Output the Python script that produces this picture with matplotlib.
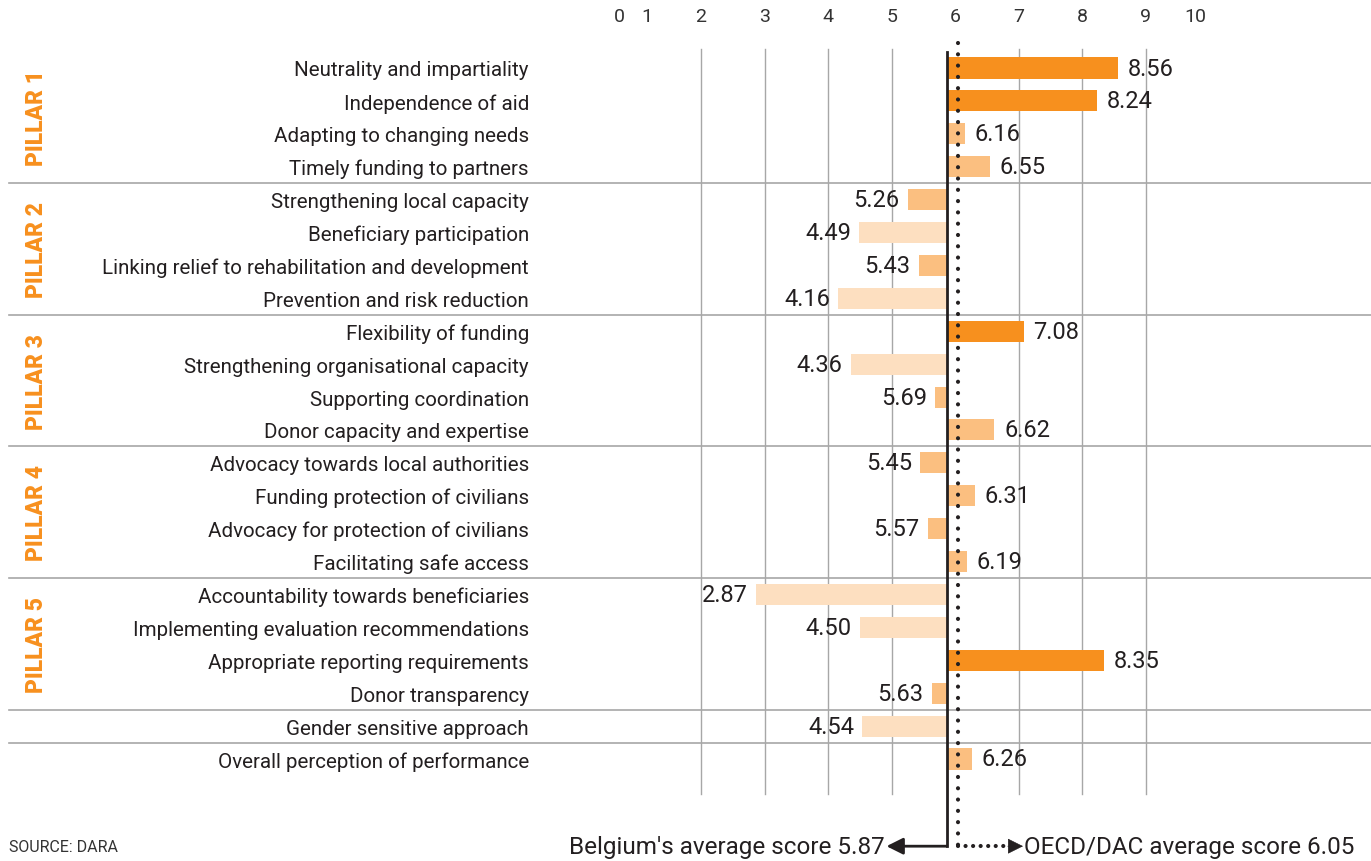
import matplotlib.pyplot as plt

# Scores per indicator (Belgium)
categories = [
    "Neutrality and impartiality", "Independence of aid", "Adapting to changing needs",
    "Timely funding to partners", "Strengthening local capacity", "Beneficiary participation",
    "Linking relief to rehabilitation and development", "Prevention and risk reduction",
    "Flexibility of funding", "Strengthening organisational capacity", "Supporting coordination",
    "Donor capacity and expertise", "Advocacy towards local authorities",
    "Funding protection of civilians", "Advocacy for protection of civilians",
    "Facilitating safe access", "Accountability towards beneficiaries",
    "Implementing evaluation recommendations", "Appropriate reporting requirements",
    "Donor transparency", "Gender sensitive approach", "Overall perception of performance",
]
scores = [8.56, 8.24, 6.16, 6.55, 5.26, 4.49, 5.43, 4.16, 7.08, 4.36, 5.69,
          6.62, 5.45, 6.31, 5.57, 6.19, 2.87, 4.50, 8.35, 5.63, 4.54, 6.26]
pillars = ["PILLAR 1", "PILLAR 2", "PILLAR 3", "PILLAR 4", "PILLAR 5"]
pillar_sizes = [4, 4, 4, 4, 4]
tick_labels = ["0", "1", "2", "3", "4", "5", "6", "7", "8", "9", "10"]
belgium_avg = 5.87
oecd_avg = 6.05

ORANGE = "#F7901E"
MID = "#FBBF80"
LIGHT = "#FDDFC0"
TXT = "#231F20"
GRID = "#A7A7A7"

plt.rcParams["font.family"] = ["Roboto", "DejaVu Sans"]

fig = plt.figure(figsize=(13.71, 8.62), dpi=100)
ax = fig.add_axes([0, 0, 1, 1])
ax.set_xlim(-9.04, 12.55)
ax.set_ylim(24.10, -2.097)
ax.axis("off")

n = len(categories)
rows = list(range(n))

# vertical grid
for g in [2, 3, 4, 5, 7, 8, 9]:
    ax.plot([g, g], [-0.58, 22.07], color=GRID, lw=1.0, zorder=1)

# tick labels on top (0, 1 and 10 squeezed as in the original)
tick_pos = [0.72, 1.15, 2, 3, 4, 5, 6, 7, 8, 9, 9.78]
for p, lab in zip(tick_pos, tick_labels):
    ax.text(p, -1.58, lab, ha="center", va="center", fontsize=14, color="#333333")

# group separators
for s in [3.5, 7.5, 11.5, 15.5, 19.5, 20.5]:
    ax.plot([-8.9, 12.55], [s, s], color=GRID, lw=1.2, zorder=1)

# bars
for r, v in zip(rows, scores):
    if v >= 7:
        c = ORANGE
    elif v >= 5:
        c = MID
    else:
        c = LIGHT
    ax.barh(r, v - belgium_avg, left=belgium_avg, height=0.64, color=c, zorder=2)
    if v >= belgium_avg:
        ax.annotate(f"{v:.2f}", (v, r), xytext=(7, 0), textcoords="offset points",
                    ha="left", va="center", fontsize=17, color=TXT)
    else:
        ax.annotate(f"{v:.2f}", (v, r), xytext=(-6, 0), textcoords="offset points",
                    ha="right", va="center", fontsize=17, color=TXT)

# category labels
for r, lab in zip(rows, categories):
    ax.text(-0.71, r + 0.06, lab, ha="right", va="center", fontsize=14.8, color=TXT)

# pillar labels
start = 0
for p, size in zip(pillars, pillar_sizes):
    mid = start + (size - 1) / 2
    ax.text(-8.47, mid, p, rotation=90, ha="center", va="center",
            fontsize=16.5, fontweight="heavy", color=ORANGE)
    start += size

# average lines
ax.plot([belgium_avg, belgium_avg], [-0.5, 23.65], color=TXT, lw=2, zorder=4)
ax.plot([oecd_avg, oecd_avg], [-0.75, 23.65], color=TXT, lw=3,
        linestyle=(0, (0.01, 2.7)), dash_capstyle="round", zorder=4)

ax.annotate("", xy=(belgium_avg - 0.95, 23.65), xytext=(belgium_avg, 23.65),
            arrowprops=dict(arrowstyle="-|>,head_length=1.0,head_width=0.5",
                            color=TXT, lw=2, shrinkA=0, shrinkB=0))
ax.text(belgium_avg - 0.98, 23.65, f"Belgium's average score {belgium_avg:.2f}",
        ha="right", va="center", fontsize=17.5, color=TXT)

ax.plot([oecd_avg, oecd_avg + 0.75], [23.65, 23.65], color=TXT, lw=3,
        linestyle=(0, (0.01, 1.8)), dash_capstyle="round")
ax.annotate("", xy=(oecd_avg + 1.02, 23.65), xytext=(oecd_avg + 0.78, 23.65),
            arrowprops=dict(arrowstyle="-|>,head_length=1.0,head_width=0.5",
                            color=TXT, lw=0.5, shrinkA=0, shrinkB=0))
ax.text(oecd_avg + 1.04, 23.65, f"OECD/DAC average score {oecd_avg:.2f}",
        ha="left", va="center", fontsize=17.5, color=TXT)

ax.text(-8.9, 23.65, "SOURCE: DARA", ha="left", va="center", fontsize=11.5, color="#333333")

fig.savefig("out.png", dpi=100)
